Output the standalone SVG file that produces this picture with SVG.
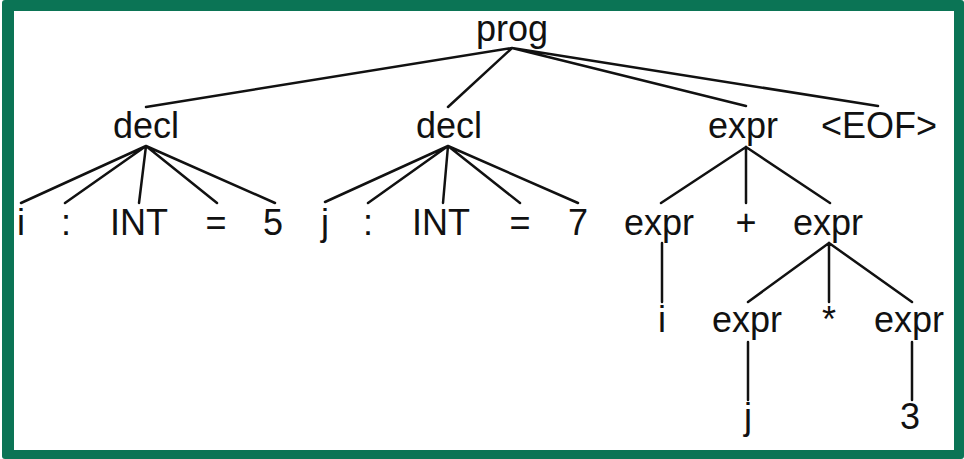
<svg xmlns="http://www.w3.org/2000/svg" width="964" height="459" viewBox="0 0 964 459">
<style>
.t{font-family:"Liberation Sans",Arial,sans-serif;font-size:36px;fill:#111;text-anchor:middle}
.e{stroke:#111;stroke-width:2.5;fill:none;stroke-linecap:round}
</style>
<rect x="0" y="0" width="964" height="459" fill="#ffffff"/>
<rect x="2" y="0" width="962" height="459" rx="3" fill="#0b7455"/>
<rect x="14" y="11" width="940" height="439" fill="#ffffff"/>
<g id="connectors" class="e">
<path d="M512,48 L146,107 M512,48 L448,107 M512,48 L746,106 M512,48 L878,106"/>
<path d="M146,146 L21,203 M146,146 L65,203 M146,146 L139,203 M146,146 L217,203 M146,146 L275,203"/>
<path d="M448,146 L325,202 M448,146 L368,203 M448,146 L443,203 M448,146 L520,203 M448,146 L578,203"/>
<path d="M746,147 L661,203 M746,147 L746,203 M746,147 L830,203"/>
<path d="M662,243 L662,302"/>
<path d="M829,243 L748,302 M829,243 L829,302 M829,243 L912,302"/>
<path d="M748,342 L748,400 M912,342 L912,400"/>
</g>
<g id="prog"><text class="t" x="512" y="41">prog</text></g>
<g id="decl1"><text class="t" x="146" y="138">decl</text></g>
<g id="decl2"><text class="t" x="449" y="138">decl</text></g>
<g id="expr"><text class="t" x="743" y="138">expr</text></g>
<g id="eof"><text class="t" x="879" y="138">&lt;EOF&gt;</text></g>
<g id="i1"><text class="t" x="21" y="235">i</text></g>
<g id="colon1"><text class="t" x="66" y="235">:</text></g>
<g id="int1"><text class="t" x="139" y="235">INT</text></g>
<g id="eq1"><text class="t" x="216" y="235">=</text></g>
<g id="five"><text class="t" x="273" y="235">5</text></g>
<g id="j1"><text class="t" x="325" y="235">j</text></g>
<g id="colon2"><text class="t" x="368" y="235">:</text></g>
<g id="int2"><text class="t" x="441" y="235">INT</text></g>
<g id="eq2"><text class="t" x="520" y="235">=</text></g>
<g id="seven"><text class="t" x="578" y="235">7</text></g>
<g id="exprL"><text class="t" x="659" y="235">expr</text></g>
<g id="plus"><text class="t" x="746" y="235">+</text></g>
<g id="exprR"><text class="t" x="828" y="235">expr</text></g>
<g id="i2"><text class="t" x="662" y="332">i</text></g>
<g id="exprRL"><text class="t" x="747" y="332">expr</text></g>
<g id="star"><text class="t" x="829" y="332">*</text></g>
<g id="exprRR"><text class="t" x="909" y="332">expr</text></g>
<g id="j2"><text class="t" x="748" y="429">j</text></g>
<g id="three"><text class="t" x="910" y="429">3</text></g>
</svg>
